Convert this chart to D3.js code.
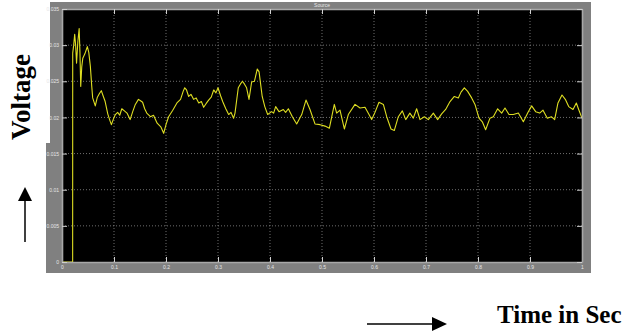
<!DOCTYPE html>
<html><head><meta charset="utf-8">
<script src="https://cdn.jsdelivr.net/npm/d3@7"></script>
<style>body{margin:0;background:#fff}</style>
</head><body>
<svg id="c" width="637" height="333"></svg>
<script>
const timeValues = [0,0.0205,0.0206,0.0225,0.0244,0.0262,0.028,0.0305,0.033,0.0345,0.036,0.038,0.040,0.044,0.0487,0.0515,0.0545,0.057,0.059,0.064,0.068,0.072,0.0756,0.079,0.083,0.088,0.092,0.095,0.099,0.1026,0.107,0.111,0.115,0.12,0.125,0.131,0.136,0.141,0.147,0.151,0.155,0.159,0.163,0.170,0.176,0.183,0.19,0.1955,0.2,0.205,0.213,0.221,0.228,0.233,0.236,0.2395,0.2436,0.248,0.253,0.258,0.263,0.268,0.2724,0.277,0.282,0.287,0.2917,0.296,0.300,0.305,0.309,0.315,0.3205,0.325,0.330,0.3327,0.339,0.343,0.347,0.351,0.355,0.3596,0.3647,0.37,0.3756,0.379,0.385,0.39,0.3955,0.4032,0.407,0.4109,0.4173,0.4256,0.43,0.4353,0.443,0.4513,0.461,0.4692,0.4769,0.4865,0.4962,0.5058,0.5141,0.5237,0.5282,0.5346,0.543,0.5506,0.5635,0.5731,0.5827,0.5904,0.5955,0.6019,0.6096,0.618,0.6244,0.6327,0.6391,0.6468,0.6545,0.661,0.669,0.6756,0.682,0.6885,0.6968,0.7045,0.7141,0.7224,0.7301,0.7378,0.7462,0.7545,0.7622,0.7673,0.7737,0.7801,0.7878,0.7942,0.8019,0.8083,0.8147,0.823,0.8295,0.8378,0.8455,0.8519,0.8596,0.8679,0.8776,0.8872,0.8955,0.9032,0.9109,0.9186,0.925,0.9333,0.941,0.9474,0.9538,0.9615,0.9679,0.9744,0.9827,0.9891,0.9936,1.0];
const voltageValues = [0,0,0.0289,0.0300,0.0315,0.0300,0.0275,0.0305,0.0323,0.0290,0.0243,0.0270,0.0282,0.0288,0.0298,0.0290,0.0271,0.0245,0.0227,0.0216,0.0228,0.0233,0.0237,0.0230,0.0222,0.0205,0.0196,0.0190,0.0198,0.0204,0.0207,0.0203,0.0212,0.0209,0.0206,0.0197,0.0208,0.0218,0.0225,0.0223,0.0221,0.0212,0.0206,0.0201,0.0203,0.0192,0.0187,0.0178,0.0190,0.0201,0.0210,0.0220,0.0225,0.0236,0.0241,0.0238,0.0229,0.0232,0.0225,0.0227,0.0220,0.0222,0.0214,0.0219,0.0224,0.0228,0.0238,0.0234,0.0241,0.0230,0.0222,0.0212,0.0204,0.0207,0.0199,0.0206,0.0241,0.0246,0.0250,0.0246,0.0241,0.0225,0.0249,0.0250,0.0267,0.0263,0.0229,0.0215,0.0204,0.0208,0.0206,0.0215,0.0208,0.0211,0.0207,0.0212,0.0201,0.0191,0.0204,0.0224,0.0211,0.0191,0.0190,0.0188,0.0185,0.0218,0.0206,0.0210,0.0184,0.0204,0.0218,0.0213,0.0214,0.0204,0.0197,0.0207,0.0221,0.0218,0.0201,0.0184,0.0182,0.0201,0.0209,0.0197,0.0206,0.0199,0.0212,0.0197,0.0201,0.0197,0.0206,0.0197,0.0205,0.0211,0.0222,0.0229,0.0227,0.0235,0.0241,0.0236,0.0227,0.0218,0.0199,0.0194,0.0183,0.0199,0.0201,0.0212,0.0206,0.0213,0.0204,0.0204,0.0206,0.0194,0.0206,0.0216,0.0208,0.0206,0.0210,0.0199,0.0201,0.0197,0.0220,0.0231,0.0225,0.0215,0.0211,0.0220,0.0211,0.0199];
const xTicks = [0,0.1,0.2,0.3,0.4,0.5,0.6,0.7,0.8,0.9,1];
const xTickLabels = ["0","0.1","0.2","0.3","0.4","0.5","0.6","0.7","0.8","0.9","1"];
const yTicks = [0,0.005,0.01,0.015,0.02,0.025,0.03,0.035];
const yTickLabels = ["0","0.005","0.01","0.015","0.02","0.025","0.03","0.035"];
const plotTitle = "Source";
const yAxisTitle = "Voltage";
const xAxisTitle = "Time in Sec";

const svg = d3.select("#c");
const L = 62, R = 582, T = 9, B = 262;
const x = d3.scaleLinear().domain([0,1]).range([L,R]);
const y = d3.scaleLinear().domain([0,0.035]).range([B,T]);

// gray scope frame
svg.append("rect").attr("x",50).attr("y",2).attr("width",541).attr("height",271).attr("fill","#808080");
svg.append("rect").attr("x",46).attr("y",143).attr("width",6).attr("height",130).attr("fill","#808080");
svg.append("rect").attr("x",L).attr("y",T).attr("width",R-L).attr("height",B-T).attr("fill","#000");

// grid
const g = svg.append("g");
g.selectAll(".gx").data(xTicks.slice(1,-1)).join("line")
  .attr("x1",d=>x(d)).attr("x2",d=>x(d)).attr("y1",T).attr("y2",B)
  .attr("stroke","#8a8a8a").attr("stroke-width",0.8).attr("stroke-dasharray","1,2");
g.selectAll(".gy").data(yTicks.slice(1,-1)).join("line")
  .attr("y1",d=>y(d)).attr("y2",d=>y(d)).attr("x1",L).attr("x2",R)
  .attr("stroke","#8a8a8a").attr("stroke-width",0.8).attr("stroke-dasharray","1,2");

// signal
const pts = timeValues.map((t,i)=>[t, voltageValues[i]]);
svg.append("path").datum(pts)
  .attr("d", d3.line().x(d=>x(d[0])).y(d=>y(d[1])))
  .attr("fill","none").attr("stroke","#dede22").attr("stroke-width",1.1).attr("stroke-linejoin","round");

// axes with inner ticks
const tickCol = "#d0d0d0";
function styleAxis(sel){
  sel.select(".domain").attr("stroke","#a8a8a8").attr("stroke-width",1.6);
  sel.selectAll(".tick line").attr("stroke",tickCol);
  sel.selectAll(".tick text").attr("fill","#e6e6e6").attr("font-size","5px").attr("font-family","Arial, sans-serif");
}
const xb = svg.append("g").attr("transform",`translate(0,${B})`)
  .call(d3.axisBottom(x).tickValues(xTicks).tickSizeInner(-5).tickSizeOuter(0).tickPadding(3).tickFormat((d,i)=>xTickLabels[i]));
styleAxis(xb);
const xt = svg.append("g").attr("transform",`translate(0,${T})`)
  .call(d3.axisTop(x).tickValues(xTicks).tickSizeInner(-5).tickSizeOuter(0).tickFormat(""));
styleAxis(xt);
const yl = svg.append("g").attr("transform",`translate(${L},0)`)
  .call(d3.axisLeft(y).tickValues(yTicks).tickSizeInner(-5).tickSizeOuter(0).tickPadding(3).tickFormat((d,i)=>yTickLabels[i]));
styleAxis(yl);
const yr = svg.append("g").attr("transform",`translate(${R},0)`)
  .call(d3.axisRight(y).tickValues(yTicks).tickSizeInner(-5).tickSizeOuter(0).tickFormat(""));
styleAxis(yr);

// title
svg.append("text").attr("x",322).attr("y",7).attr("text-anchor","middle")
  .attr("font-size","5px").attr("font-family","Arial, sans-serif").attr("fill","#e6e6e6").text(plotTitle);

// axis titles
svg.append("text").attr("transform","translate(30,97) rotate(-90)").attr("text-anchor","middle")
  .attr("font-family","'Liberation Serif', 'Times New Roman', serif").attr("font-weight","bold")
  .attr("font-size","27px").attr("fill","#000").text(yAxisTitle);
svg.append("text").attr("x",497).attr("y",323).attr("text-anchor","start")
  .attr("font-family","'Liberation Serif', 'Times New Roman', serif").attr("font-weight","bold")
  .attr("font-size","25px").attr("fill","#000").text(xAxisTitle);

// arrows
svg.append("line").attr("x1",25).attr("x2",25).attr("y1",242).attr("y2",198).attr("stroke","#000").attr("stroke-width",1.5);
svg.append("path").attr("d","M25,187 L18,201 L32,201 Z").attr("fill","#000");
svg.append("line").attr("x1",367).attr("x2",434).attr("y1",324).attr("y2",324).attr("stroke","#000").attr("stroke-width",1.5);
svg.append("path").attr("d","M447,324 L432,317 L432,331 Z").attr("fill","#000");
</script>
</body></html>
